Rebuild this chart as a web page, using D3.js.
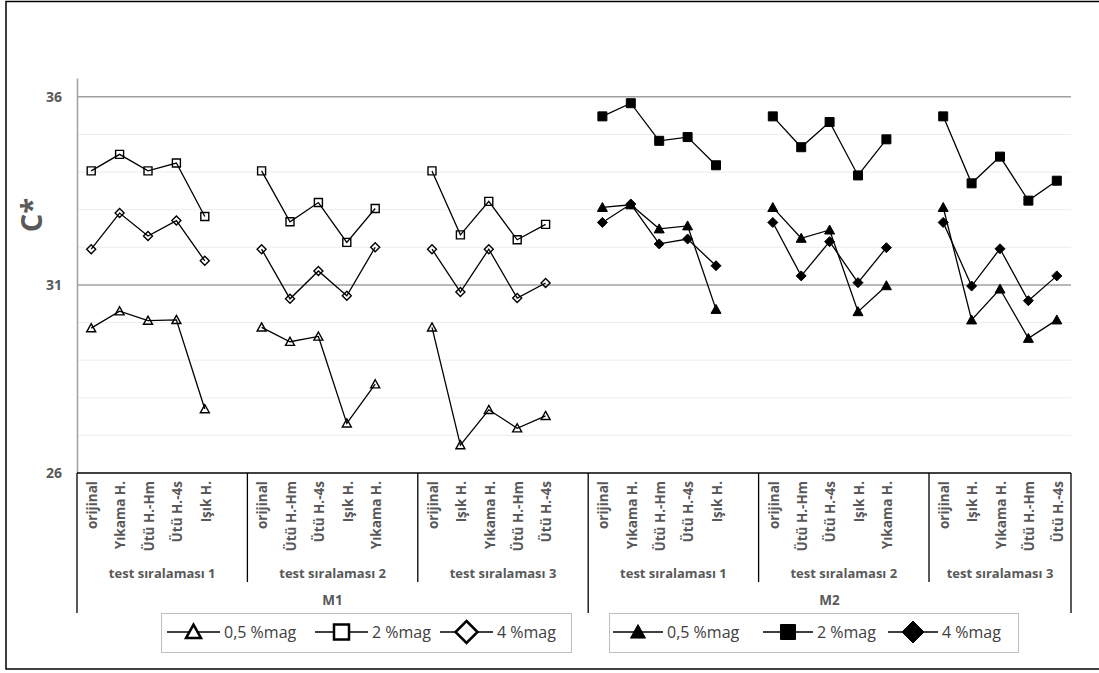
<!DOCTYPE html>
<html><head><meta charset="utf-8">
<script src="https://cdn.jsdelivr.net/npm/d3@7/dist/d3.min.js"></script>
<style>
body{margin:0;background:#fff;}
text{font-family:"Open Sans",sans-serif;}
</style></head>
<body><svg id="c" width="1099" height="673"></svg>
<script>
// ---------- data ----------
const materials = ["M1", "M2"];
const orders = ["test sıralaması 1", "test sıralaması 2", "test sıralaması 3"];
const orderCats = [
  ["orijinal", "Yıkama H.", "Ütü H.-Hm", "Ütü H.-4s", "Işık H."],
  ["orijinal", "Ütü H.-Hm", "Ütü H.-4s", "Işık H.", "Yıkama H."],
  ["orijinal", "Işık H.", "Yıkama H.", "Ütü H.-Hm", "Ütü H.-4s"]
];
const seriesNames = ["0,5 %mag", "2 %mag", "4 %mag"];
// M1 values (3 orders x 5 steps)
const m1_05 = [29.85, 30.30, 30.05, 30.07, 27.70, 29.87, 29.49, 29.63, 27.32, 28.36, 29.87, 26.74, 27.68, 27.19, 27.52];
const m1_2  = [34.03, 34.47, 34.03, 34.24, 32.82, 34.03, 32.68, 33.19, 32.13, 33.03, 34.03, 32.33, 33.22, 32.20, 32.61];
const m1_4  = [31.95, 32.91, 32.30, 32.71, 31.64, 31.95, 30.63, 31.37, 30.71, 32.00, 31.95, 30.81, 31.95, 30.65, 31.05];
// M2 values
const m2_05 = [33.06, 33.13, 32.49, 32.57, 30.35, 33.06, 32.24, 32.46, 30.29, 30.98, 33.06, 30.07, 30.89, 29.58, 30.07];
const m2_2  = [35.48, 35.83, 34.83, 34.93, 34.18, 35.48, 34.66, 35.33, 33.91, 34.87, 35.48, 33.70, 34.41, 33.24, 33.77];
const m2_4  = [32.66, 33.15, 32.09, 32.22, 31.51, 32.66, 31.24, 32.15, 31.06, 31.99, 32.66, 30.97, 31.96, 30.58, 31.24];
const yTicks = [26, 31, 36];
const yMinor = [27, 28, 29, 30, 32, 33, 34, 35];
const yTitle = "C*";

// ---------- layout ----------
const svg = d3.select("#c");
const L = 77, R = 1071, T = 78, B = 473;
const nSlots = 35; // 6 groups x (5 cats + 1 gap), last gap dropped
const x = d3.scaleBand().domain(d3.range(nSlots)).range([L, R]).padding(0);
const bw = x.bandwidth();
const y = d3.scaleLinear().domain([26, 36.5]).range([B, T]);
const slotX = (g, k) => x(g * 6 + k) + bw / 2;
const sepX = g => (g * 6 < nSlots ? x(g * 6) : R);

// frame
svg.append("rect").attr("x", 6).attr("y", 1.5).attr("width", 1100).attr("height", 667.5)
  .attr("fill", "none").attr("stroke", "#000").attr("stroke-width", 1.5);

// minor gridlines
svg.append("g").selectAll("line").data(yMinor).join("line")
  .attr("x1", L).attr("x2", R).attr("y1", d => y(d)).attr("y2", d => y(d))
  .attr("stroke", "#ececec").attr("stroke-width", 1);
// major gridlines
svg.append("g").selectAll("line").data(yTicks.filter(d => d > 26)).join("line")
  .attr("x1", L).attr("x2", R).attr("y1", d => y(d)).attr("y2", d => y(d))
  .attr("stroke", "#a0a0a0").attr("stroke-width", 1.5);

// y axis
const ya = svg.append("g").attr("transform", `translate(${L},0)`)
  .call(d3.axisLeft(y).tickValues(yTicks).tickSize(0).tickPadding(15).tickFormat(d3.format("d")));
ya.select(".domain").attr("stroke", "#a0a0a0").attr("stroke-width", 1.5);
ya.selectAll("text").attr("fill", "#595959").attr("font-size", 14).attr("font-weight", "bold")
  .style("font-family", "'Open Sans',sans-serif");

svg.append("text").attr("transform", "translate(42,215) rotate(-90)")
  .attr("text-anchor", "middle").attr("fill", "#595959").attr("font-size", 29)
  .attr("font-weight", "bold").text(yTitle);

// x axis line
svg.append("line").attr("x1", L).attr("x2", R).attr("y1", B).attr("y2", B)
  .attr("stroke", "#000").attr("stroke-width", 1.5);

// separators
d3.range(7).forEach(g => {
  const major = g % 3 === 0;
  svg.append("line").attr("x1", sepX(g)).attr("x2", sepX(g))
    .attr("y1", B).attr("y2", major ? 613 : 582)
    .attr("stroke", "#000").attr("stroke-width", 1.3);
});

// category labels
for (let m = 0; m < 2; m++) {
  for (let o = 0; o < 3; o++) {
    const g = m * 3 + o;
    orderCats[o].forEach((c, k) => {
      svg.append("text")
        .attr("transform", `translate(${slotX(g, k) + 1},${B + 8}) rotate(-90)`)
        .attr("text-anchor", "end").attr("dy", "0.35em")
        .attr("fill", "#595959").attr("font-size", 13.5).attr("font-weight", "bold").text(c);
    });
    svg.append("text").attr("x", (sepX(g) + sepX(g + 1)) / 2).attr("y", 578)
      .attr("text-anchor", "middle").attr("fill", "#595959").attr("font-size", 13)
      .attr("font-weight", "bold").text(orders[o]);
  }
  svg.append("text").attr("x", (sepX(m * 3) + sepX(m * 3 + 3)) / 2).attr("y", 605)
    .attr("text-anchor", "middle").attr("fill", "#595959").attr("font-size", 13.5)
    .attr("font-weight", "bold").text(materials[m]);
}

// marker shapes
function markerPath(type, s) {
  const p = d3.path();
  if (type === "tri") {
    const w = s, h = s * 0.9;
    p.moveTo(0, -h * 0.55); p.lineTo(w / 2, h * 0.45); p.lineTo(-w / 2, h * 0.45); p.closePath();
  } else if (type === "sq") {
    p.rect(-s / 2, -s / 2, s, s);
  } else {
    const r = s / 2;
    p.moveTo(0, -r); p.lineTo(r, 0); p.lineTo(0, r); p.lineTo(-r, 0); p.closePath();
  }
  return p.toString();
}

const series = [
  { m: 0, vals: m1_05, type: "tri", filled: false, size: 9 },
  { m: 0, vals: m1_2, type: "sq", filled: false, size: 8 },
  { m: 0, vals: m1_4, type: "dia", filled: false, size: 9 },
  { m: 1, vals: m2_05, type: "tri", filled: true, size: 10 },
  { m: 1, vals: m2_2, type: "sq", filled: true, size: 9 },
  { m: 1, vals: m2_4, type: "dia", filled: true, size: 10 }
];

const line = d3.line().x(d => d[0]).y(d => d[1]);
series.forEach(s => {
  for (let o = 0; o < 3; o++) {
    const g = s.m * 3 + o;
    const pts = s.vals.slice(o * 5, o * 5 + 5).map((v, k) => [slotX(g, k), y(v)]);
    svg.append("path").attr("d", line(pts)).attr("fill", "none")
      .attr("stroke", "#000").attr("stroke-width", 1.3);
    svg.append("g").selectAll("path").data(pts).join("path")
      .attr("transform", d => `translate(${d[0]},${d[1]})`)
      .attr("d", markerPath(s.type, s.size))
      .attr("fill", s.filled ? "#000" : "none")
      .attr("stroke", "#000").attr("stroke-width", s.filled ? 1 : 1.4);
  }
});

// legends
const legends = [
  { box: [161, 613, 410, 39], filled: false, items: [[167, 220], [315, 368], [440, 493]] },
  { box: [609, 613, 409, 39], filled: true, items: [[613, 663], [763, 813], [888, 938]] }
];
const legTypes = [["tri", 15], ["sq", 15], ["dia", 22]];
legends.forEach(lg => {
  svg.append("rect").attr("x", lg.box[0] + 0.5).attr("y", lg.box[1] + 0.5)
    .attr("width", lg.box[2]).attr("height", lg.box[3])
    .attr("fill", "#fff").attr("stroke", "#bfbfbf").attr("stroke-width", 1);
  lg.items.forEach((it, i) => {
    const cy = 632, cx = (it[0] + it[1]) / 2;
    svg.append("line").attr("x1", it[0]).attr("x2", it[1]).attr("y1", cy).attr("y2", cy)
      .attr("stroke", "#000").attr("stroke-width", 1.5);
    svg.append("path").attr("transform", `translate(${cx},${cy})`)
      .attr("d", markerPath(legTypes[i][0], legTypes[i][1]))
      .attr("fill", lg.filled ? "#000" : "#fff")
      .attr("stroke", "#000").attr("stroke-width", lg.filled ? 1 : 2.5);
    svg.append("text").attr("x", it[1] + 4).attr("y", cy).attr("dy", "0.35em")
      .attr("fill", "#404040").attr("font-size", 16).text(seriesNames[i]);
  });
});
</script></body></html>
